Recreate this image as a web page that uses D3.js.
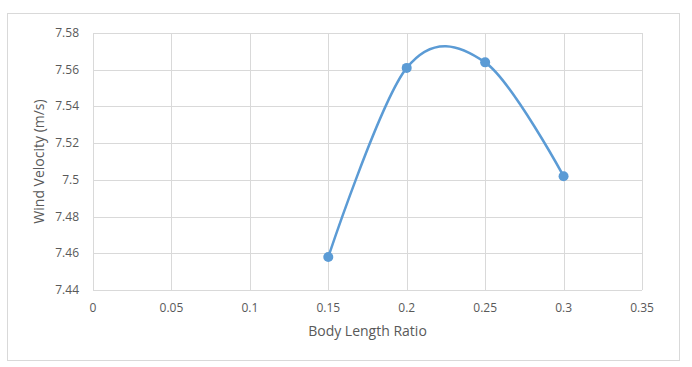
<!DOCTYPE html>
<html>
<head>
<meta charset="utf-8">
<script src="https://cdn.jsdelivr.net/npm/d3@7"></script>
<style>
  html, body { margin: 0; padding: 0; background: #fff; overflow: hidden; }
  svg { display: block; }
  text { font-family: "Open Sans", sans-serif; fill: #595959; }
</style>
</head>
<body>
<svg id="chart"></svg>
<script>
const ratios = [0.15, 0.2, 0.25, 0.3];
const velocities = [7.458, 7.561, 7.564, 7.502];
const xTicks = [0, 0.05, 0.1, 0.15, 0.2, 0.25, 0.3, 0.35];
const yTicks = [7.44, 7.46, 7.48, 7.5, 7.52, 7.54, 7.56, 7.58];

const width = 692, height = 367;
const margin = { top: 33, right: 50, bottom: 77, left: 93 };
const innerWidth = width - margin.left - margin.right;
const innerHeight = height - margin.top - margin.bottom;

const svg = d3.select("#chart").attr("width", width).attr("height", height);

// chart border
svg.append("rect")
  .attr("x", 7.5).attr("y", 13.5)
  .attr("width", 672).attr("height", 347)
  .attr("fill", "none").attr("stroke", "#d9d9d9");

const x = d3.scaleLinear().domain([0, 0.35]).range([margin.left, margin.left + innerWidth]);
const y = d3.scaleLinear().domain([7.44, 7.58]).range([margin.top + innerHeight, margin.top]);

// gridlines
svg.append("g").selectAll("line")
  .data(yTicks)
  .join("line")
  .attr("x1", x(0)).attr("x2", x(0.35))
  .attr("y1", d => Math.round(y(d)) + 0.5).attr("y2", d => Math.round(y(d)) + 0.5)
  .attr("stroke", "#d9d9d9");

svg.append("g").selectAll("line")
  .data(xTicks)
  .join("line")
  .attr("x1", d => Math.round(x(d)) + 0.5).attr("x2", d => Math.round(x(d)) + 0.5)
  .attr("y1", y(7.58)).attr("y2", y(7.44))
  .attr("stroke", "#d9d9d9");

const fmt = d => String(+d.toFixed(2));

// tick labels
svg.append("g").selectAll("text")
  .data(yTicks)
  .join("text")
  .attr("x", x(0) - 14)
  .attr("y", d => y(d) + 4)
  .attr("text-anchor", "end")
  .style("font-size", "12px")
  .text(fmt);

svg.append("g").selectAll("text")
  .data(xTicks)
  .join("text")
  .attr("x", d => x(d))
  .attr("y", y(7.44) + 22)
  .attr("text-anchor", "middle")
  .style("font-size", "12px")
  .text(fmt);

// axis titles
svg.append("text")
  .attr("x", margin.left + innerWidth / 2).attr("y", 336)
  .attr("text-anchor", "middle").style("font-size", "14px")
  .text("Body Length Ratio");

const cy = margin.top + innerHeight / 2;
svg.append("text")
  .attr("x", 44).attr("y", cy)
  .attr("transform", `rotate(-90,44,${cy})`)
  .attr("text-anchor", "middle").style("font-size", "14px")
  .text("Wind Velocity (m/s)");

// series
const data = ratios.map((r, i) => ({ r, v: velocities[i] }));

svg.append("path")
  .datum(data)
  .attr("fill", "none")
  .attr("stroke", "#5b9bd5")
  .attr("stroke-width", 2.5)
  .attr("d", d3.line().x(d => x(d.r)).y(d => y(d.v)).curve(d3.curveCatmullRom.alpha(0)));

svg.append("g").selectAll("circle")
  .data(data)
  .join("circle")
  .attr("cx", d => x(d.r))
  .attr("cy", d => y(d.v))
  .attr("r", 5)
  .attr("fill", "#5b9bd5");
</script>
</body>
</html>
